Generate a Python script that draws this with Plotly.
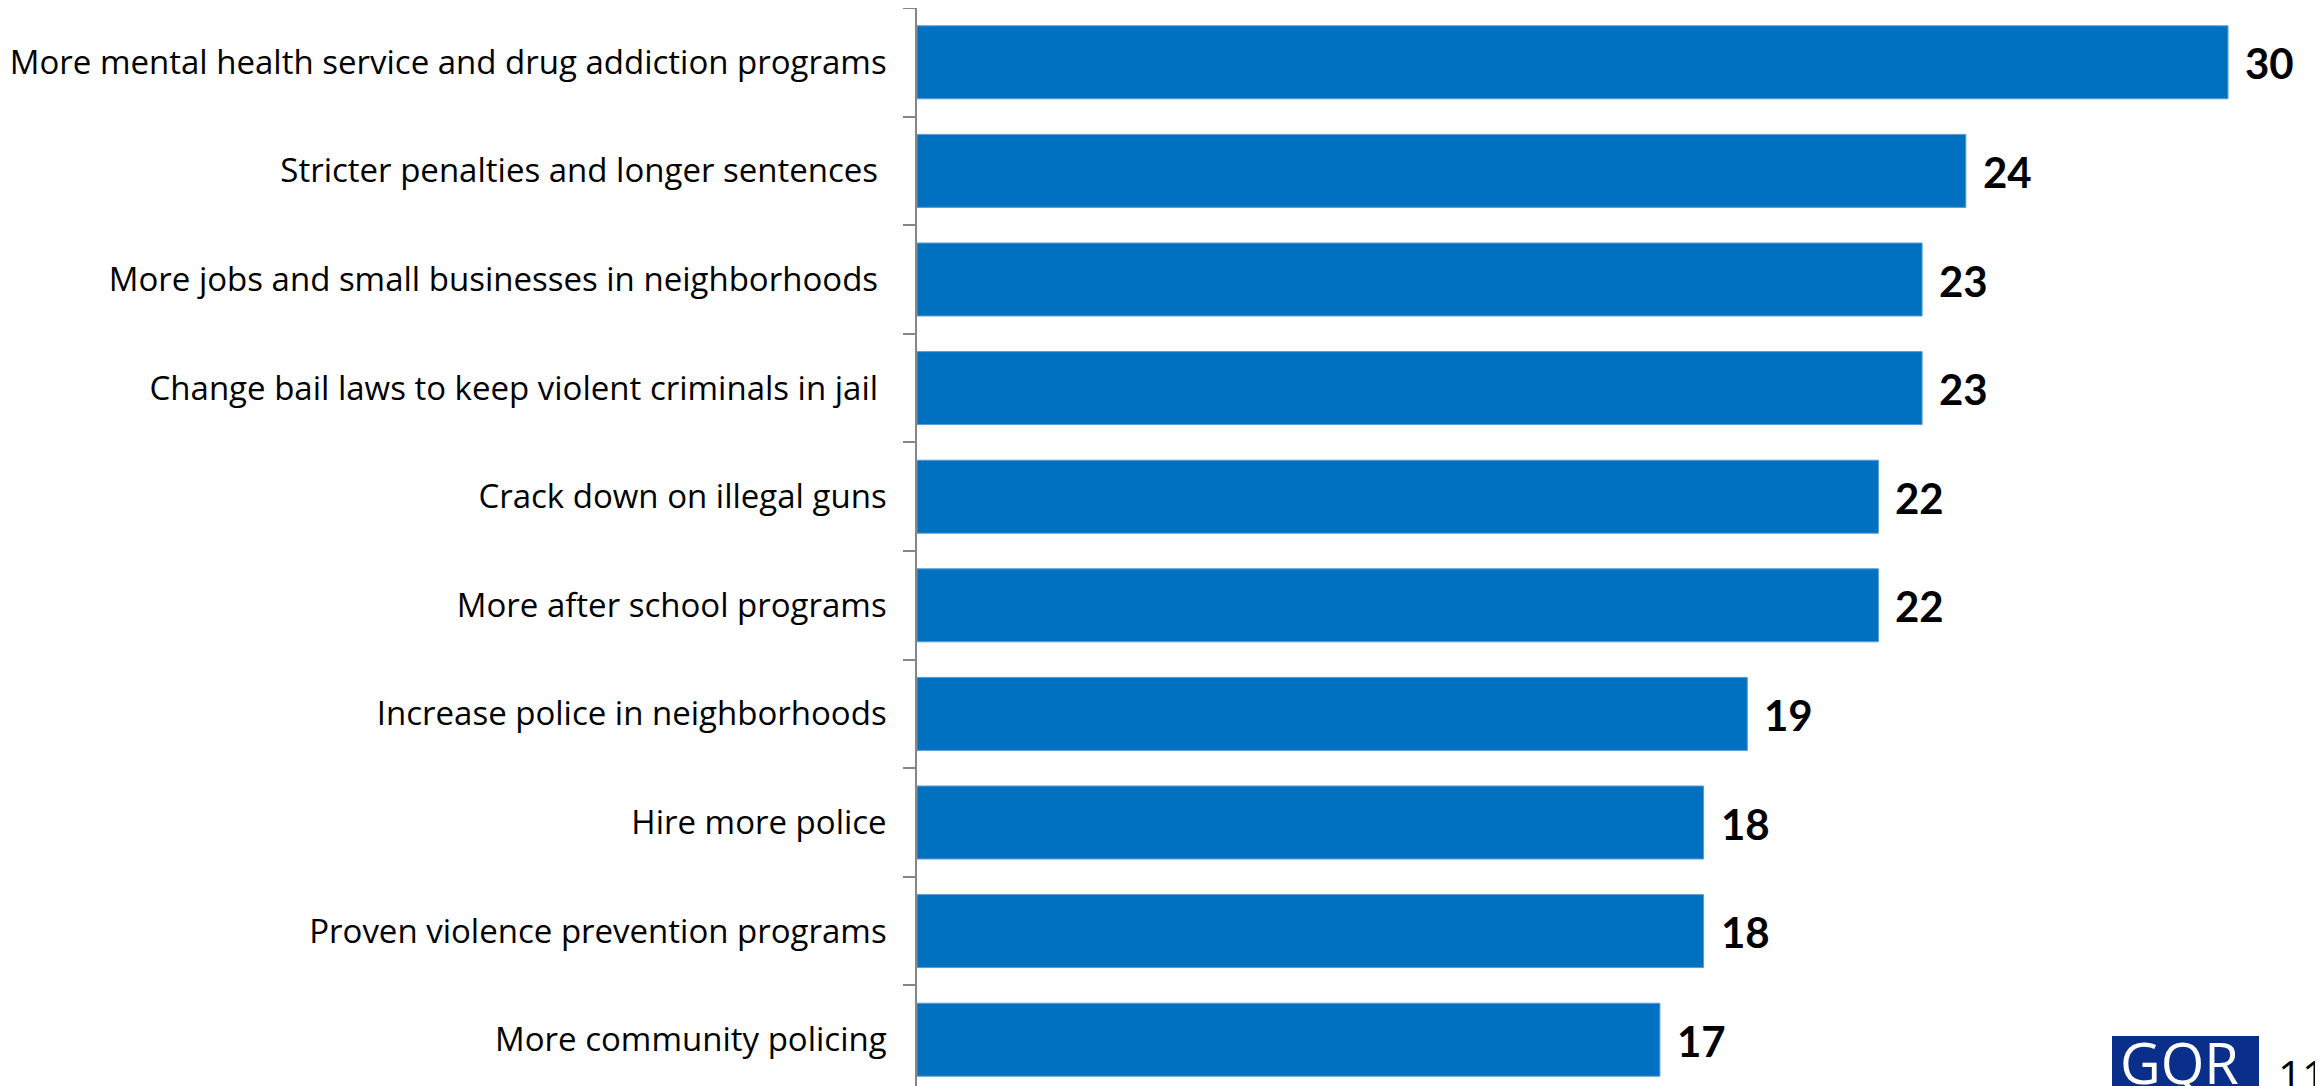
import plotly.graph_objects as go

categories = [
    "More mental health service and drug addiction programs",
    "Stricter penalties and longer sentences ",
    "More jobs and small businesses in neighborhoods ",
    "Change bail laws to keep violent criminals in jail ",
    "Crack down on illegal guns",
    "More after school programs",
    "Increase police in neighborhoods",
    "Hire more police",
    "Proven violence prevention programs",
    "More community policing",
]
values = [30, 24, 23, 23, 22, 22, 19, 18, 18, 17]
page_number = "11"
logo_text = "GQR"

BAR = "#0070C0"
# page body has an 8px margin; figure is offset accordingly
OFF = 8
W, H = 2323 - OFF, 1086 - OFF
L = 917 - OFF
PW = W - L

fig = go.Figure()
fig.add_trace(go.Bar(
    y=categories, x=values, orientation="h",
    marker=dict(color=BAR, line=dict(color="#5B9BD5", width=1)),
    hoverinfo="skip",
))
for c, v in zip(categories, values):
    fig.add_annotation(x=v, y=c, text=f"<b>{v}</b>", showarrow=False,
                       xanchor="left", yanchor="middle", xshift=15, yshift=-1,
                       font=dict(family="Lato", size=42, color="#000000"))

# logo and page number
fig.add_shape(type="rect", xref="paper", yref="paper",
              x0=(2112 - 917) / PW, x1=(2259 - 917) / PW,
              y0=-0.01, y1=(1086 - 1036) / H,
              fillcolor="#0A2F8A", line=dict(width=0), layer="above")
fig.add_annotation(xref="paper", yref="paper",
                   x=(2118 - 917) / PW, y=(1086 - 1062) / H, xanchor="left", yanchor="middle",
                   text=logo_text, showarrow=False,
                   font=dict(family="Open Sans", size=56, color="white"))
fig.add_annotation(xref="paper", yref="paper",
                   x=(2276 - 917) / PW, y=(1086 - 1074) / H, xanchor="left", yanchor="middle",
                   text=page_number, showarrow=False,
                   font=dict(family="Open Sans", size=42, color="black"))

fig.update_layout(
    width=W, height=H, autosize=False,
    margin=dict(l=L, r=0, t=0, b=0, pad=0),
    plot_bgcolor="white", paper_bgcolor="white",
    bargap=0.328, showlegend=False,
    xaxis=dict(range=[0, PW / 43.7], visible=False, fixedrange=True),
    yaxis=dict(range=[-0.5 + H / 108.6, -0.5], type="category", tickson="boundaries",
               ticks="outside", ticklen=12, tickcolor="#868686", tickwidth=1.5,
               showline=True, linecolor="#868686", linewidth=1.5,
               showgrid=False, fixedrange=True, ticklabelstandoff=22,
               tickfont=dict(family="Open Sans", size=33, color="#000000")),
)
fig.write_html("out.html")
